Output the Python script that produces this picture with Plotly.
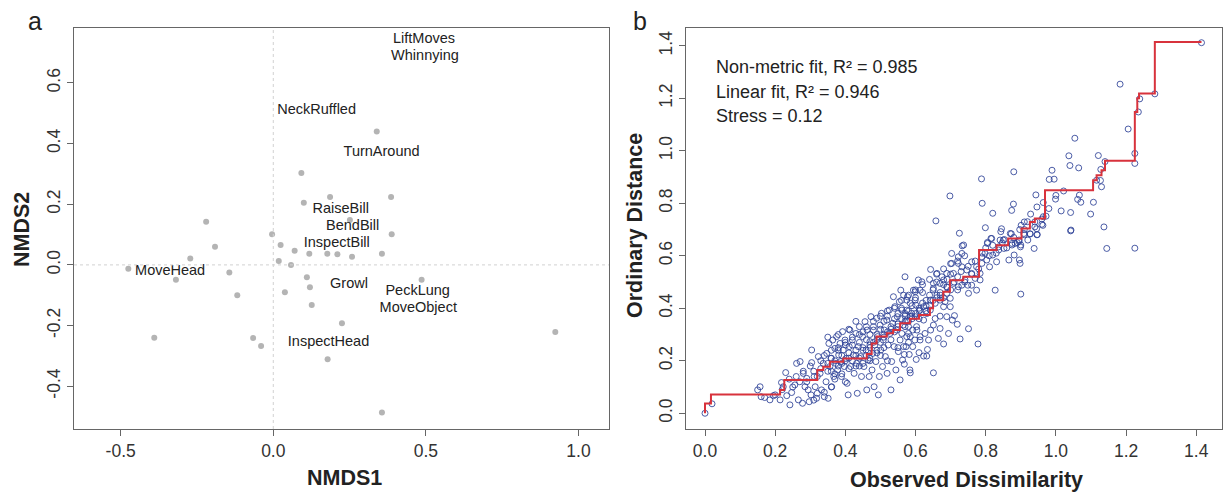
import plotly.graph_objects as go

# ---------------- Panel a: NMDS ordination ----------------
site_nmds1 = [-0.475, -0.272, -0.319, -0.191, -0.144, -0.118, -0.39, -0.066, -0.040, -0.004,
              0.024, 0.07, 0.018, 0.058, 0.038, -0.22, 0.118, 0.177, 0.21, 0.258,
              0.356, 0.388, 0.11, 0.12, 0.126, 0.486, 0.225, 0.924, 0.178, 0.356,
              0.339, 0.092, 0.186, 0.10, 0.386, 0.251]
site_nmds2 = [-0.013, 0.021, -0.049, 0.06, -0.025, -0.10, -0.24, -0.241, -0.267, 0.101,
              0.066, 0.047, 0.013, 0.0, -0.09, 0.142, 0.037, 0.037, 0.035, 0.027,
              0.037, 0.101, -0.041, -0.074, -0.132, -0.049, -0.192, -0.221, -0.311, -0.487,
              0.44, 0.303, 0.224, 0.205, 0.224, 0.148]

species = ["LiftMoves", "Whinnying", "NeckRuffled", "TurnAround", "RaiseBill", "BendBill",
           "InspectBill", "MoveHead", "Growl", "PeckLung", "MoveObject", "InspectHead"]
sp_nmds1 = [0.494, 0.497, 0.142, 0.355, 0.221, 0.26, 0.208, -0.338, 0.248, 0.473, 0.475, 0.181]
sp_nmds2 = [0.743, 0.686, 0.508, 0.370, 0.183, 0.127, 0.071, -0.02, -0.064, -0.086, -0.143, -0.254]

axa_x_ticks = [-0.5, 0.0, 0.5, 1.0]
axa_y_ticks = [-0.4, -0.2, 0.0, 0.2, 0.4, 0.6]
axb_ticks = [0.0, 0.2, 0.4, 0.6, 0.8, 1.0, 1.2, 1.4]

# ---------------- Panel b: Shepard diagram ----------------
obs_dissim = [
    # low end
    0.0, 0.02, 0.150, 0.157, 0.160, 0.185, 0.195, 0.214, 0.223, 0.218, 0.230, 0.233, 0.242, 0.247,
    0.256, 0.261, 0.271, 0.266, 0.278, 0.280, 0.285, 0.290, 0.294, 0.297, 0.302, 0.304, 0.304,
    0.311, 0.314, 0.318, 0.320, 0.323, 0.328, 0.332, 0.337, 0.340, 0.345, 0.347, 0.351, 0.353,
    0.356, 0.359, 0.361, 0.364, 0.367, 0.370, 0.373, 0.375, 0.378, 0.381, 0.385, 0.387, 0.389,
    0.392, 0.394, 0.397, 0.399, 0.402, 0.405, 0.408, 0.411, 0.413, 0.415, 0.420, 0.423, 0.425,
    0.430, 0.432, 0.434, 0.437, 0.440, 0.443, 0.446, 0.449, 0.453, 0.456, 0.459, 0.461, 0.462,
    0.465, 0.468, 0.470, 0.473, 0.476, 0.478, 0.480, 0.482, 0.484, 0.487, 0.489, 0.492, 0.494,
    0.497, 0.499, 0.501, 0.503, 0.506, 0.508, 0.511, 0.514, 0.518, 0.519, 0.522, 0.525, 0.527,
    0.530, 0.532, 0.535, 0.537, 0.539, 0.541, 0.544, 0.546, 0.548, 0.551, 0.554, 0.556, 0.558,
    0.561, 0.563, 0.565, 0.570, 0.573, 0.575, 0.577, 0.580, 0.584, 0.589, 0.594, 0.598, 0.601,
    0.603,
    # extra core
    0.36, 0.37, 0.38, 0.38, 0.39, 0.40, 0.40, 0.41, 0.42, 0.42, 0.43, 0.44, 0.44, 0.45, 0.45,
    0.46, 0.46, 0.47, 0.47, 0.48, 0.48, 0.49, 0.49, 0.50, 0.50, 0.51, 0.51, 0.52, 0.52, 0.53,
    0.53, 0.54, 0.54, 0.55, 0.55, 0.56, 0.56, 0.57, 0.57, 0.58, 0.58, 0.59, 0.59, 0.60, 0.60,
    0.61, 0.61, 0.62, 0.62, 0.63, 0.63, 0.64, 0.64, 0.65, 0.66, 0.66, 0.67, 0.68, 0.68, 0.69,
    0.70, 0.70, 0.71, 0.72, 0.72, 0.73, 0.74, 0.75, 0.76, 0.77, 0.78, 0.79, 0.80, 0.81, 0.82,
    0.83, 0.85, 0.86, 0.88, 0.89, 0.91, 0.92, 0.94, 0.96, 0.98, 1.00,
    0.33, 0.34, 0.35, 0.36, 0.37, 0.31, 0.32, 0.30, 0.29, 0.28, 0.27, 0.26, 0.25, 0.24, 0.22,
    0.20, 0.17, 0.35, 0.38, 0.41, 0.43, 0.44, 0.47, 0.50, 0.52, 0.55, 0.58, 0.40, 0.36, 0.34,
    0.31,
    # second pass over the dense band
    0.39, 0.41, 0.43, 0.45, 0.47, 0.49, 0.51, 0.53, 0.55, 0.57, 0.59, 0.61, 0.63, 0.65, 0.67,
    0.69, 0.36, 0.38, 0.40, 0.42, 0.44, 0.46, 0.48, 0.50, 0.52, 0.54, 0.56, 0.58, 0.60, 0.62,
    0.64, 0.66, 0.68, 0.70, 0.72, 0.74, 0.33, 0.35, 0.37, 0.39, 0.41, 0.43, 0.45, 0.47, 0.49,
    0.51,
    # mid region
    0.946, 0.927, 0.910, 0.895, 0.900, 0.875, 0.866, 0.896, 0.898, 0.881, 0.852, 0.837, 0.820,
    0.831, 0.811, 0.827, 0.900, 0.774, 0.751, 0.749, 0.760, 0.722, 0.732, 0.778, 0.727, 0.751,
    0.711, 0.719, 0.680, 0.665, 0.694, 0.651, 0.585, 0.556, 0.568, 0.602, 0.623, 0.632, 0.634,
    0.610, 0.568, 0.582, 0.566, 0.592, 0.585, 0.592, 0.613, 0.643, 0.651, 0.670, 0.656, 0.670,
    0.689, 0.705, 0.699, 0.680, 0.670, 0.661, 0.642, 0.651, 0.613, 0.599, 0.566, 0.575, 0.599,
    0.623, 0.642, 0.613, 0.575, 0.585, 0.608, 0.618, 0.643, 0.661, 0.675, 0.689, 0.703, 0.708,
    0.722, 0.732, 0.746, 0.760, 0.722, 0.732, 0.737, 0.703, 0.760, 0.770, 0.784, 0.789, 0.798,
    0.803, 0.805, 0.817, 0.841, 0.843, 0.870, 0.884, 0.789, 0.774, 0.784, 0.741, 0.708, 0.689,
    0.680, 0.670, 0.651, 0.689, 0.699, 0.684, 0.656, 0.632, 0.623, 0.599, 0.585, 0.570, 0.580,
    0.604, 0.627, 0.637, 0.613, 0.575, 0.561,
    # upper region
    1.415, 1.183, 1.282, 1.239, 1.235, 1.206, 1.054, 1.037, 1.121, 1.04, 1.065, 1.225, 1.225,
    1.14, 1.128, 0.88, 0.989, 0.981, 0.995, 0.788, 0.698, 0.658, 0.725, 0.79, 0.82, 0.879,
    0.874, 0.943, 0.946, 0.964, 0.928, 0.999, 1.022, 1.067, 1.062, 1.071, 1.107, 1.127, 1.13,
    1.116, 1.015, 1.042, 1.099, 1.137, 1.043, 1.145, 1.225, 0.799, 0.845, 0.964, 0.972, 0.96,
    0.963, 0.94, 0.945, 0.926, 0.947, 0.91, 0.919, 0.901, 0.897, 0.909, 0.873, 0.895, 0.899,
    0.875, 0.853, 0.847, 0.837, 0.815, 0.805, 0.733, 0.938, 1.042,
]
ord_dist = [
    # low end
    0.0, 0.036, 0.089, 0.101, 0.063, 0.051, 0.067, 0.051, 0.101, 0.117, 0.155, 0.067, 0.032, 0.079,
    0.108, 0.190, 0.197, 0.051, 0.038, 0.152, 0.101, 0.133, 0.089, 0.044, 0.070, 0.241, 0.193,
    0.140, 0.101, 0.057, 0.076, 0.216, 0.152, 0.089, 0.190, 0.063, 0.120, 0.228, 0.057, 0.266,
    0.178, 0.209, 0.101, 0.279, 0.140, 0.247, 0.190, 0.292, 0.165, 0.222, 0.266, 0.197, 0.140,
    0.311, 0.241, 0.178, 0.279, 0.209, 0.114, 0.070, 0.254, 0.317, 0.178, 0.279, 0.222, 0.152,
    0.304, 0.190, 0.076, 0.254, 0.330, 0.216, 0.140, 0.292, 0.178, 0.349, 0.241, 0.089, 0.317,
    0.203, 0.140, 0.273, 0.368, 0.165, 0.228, 0.317, 0.101, 0.260, 0.197, 0.362, 0.292, 0.070,
    0.140, 0.336, 0.241, 0.381, 0.178, 0.279, 0.317, 0.216, 0.355, 0.152, 0.260, 0.393, 0.304,
    0.089, 0.197, 0.343, 0.444, 0.254, 0.406, 0.165, 0.317, 0.368, 0.235, 0.425, 0.279, 0.469,
    0.393, 0.203, 0.336, 0.520, 0.254, 0.355, 0.444, 0.304, 0.165, 0.381, 0.469, 0.279, 0.412,
    0.330,
    # extra core
    0.16, 0.20, 0.18, 0.25, 0.22, 0.20, 0.26, 0.23, 0.20, 0.26, 0.24, 0.21, 0.27, 0.25, 0.31,
    0.22, 0.28, 0.30, 0.25, 0.27, 0.33, 0.24, 0.30, 0.32, 0.27, 0.35, 0.29, 0.31, 0.37, 0.33,
    0.28, 0.36, 0.31, 0.38, 0.34, 0.36, 0.40, 0.37, 0.33, 0.39, 0.35, 0.41, 0.37, 0.38, 0.44,
    0.40, 0.36, 0.42, 0.46, 0.43, 0.39, 0.45, 0.41, 0.47, 0.44, 0.50, 0.46, 0.49, 0.44, 0.51,
    0.47, 0.53, 0.50, 0.52, 0.47, 0.54, 0.50, 0.56, 0.53, 0.58, 0.55, 0.61, 0.63, 0.60, 0.64,
    0.61, 0.66, 0.63, 0.67, 0.65, 0.70, 0.66, 0.71, 0.74, 0.78, 0.83,
    0.20, 0.22, 0.19, 0.24, 0.15, 0.16, 0.14, 0.18, 0.12, 0.16, 0.12, 0.14, 0.10, 0.13, 0.09,
    0.07, 0.06, 0.29, 0.30, 0.32, 0.35, 0.18, 0.20, 0.22, 0.20, 0.25, 0.27, 0.12, 0.10, 0.08,
    0.05,
    # second pass over the dense band
    0.19, 0.21, 0.22, 0.24, 0.26, 0.28, 0.30, 0.32, 0.33, 0.35, 0.36, 0.39, 0.41, 0.43, 0.45,
    0.48, 0.21, 0.24, 0.27, 0.29, 0.30, 0.33, 0.35, 0.37, 0.39, 0.40, 0.43, 0.45, 0.47, 0.49,
    0.51, 0.53, 0.55, 0.57, 0.58, 0.60, 0.17, 0.16, 0.13, 0.15, 0.17, 0.18, 0.19, 0.21, 0.23,
    0.25,
    # mid region
    0.680, 0.683, 0.680, 0.660, 0.641, 0.647, 0.584, 0.584, 0.571, 0.603, 0.628, 0.622, 0.603,
    0.577, 0.558, 0.469, 0.454, 0.469, 0.457, 0.488, 0.488, 0.482, 0.488, 0.264, 0.283, 0.322,
    0.372, 0.339, 0.264, 0.285, 0.304, 0.154, 0.154, 0.127, 0.187, 0.205, 0.218, 0.218, 0.243,
    0.231, 0.224, 0.224, 0.254, 0.254, 0.292, 0.317, 0.292, 0.317, 0.336, 0.323, 0.361, 0.370,
    0.368, 0.355, 0.406, 0.406, 0.431, 0.450, 0.431, 0.476, 0.469, 0.463, 0.450, 0.431, 0.431,
    0.406, 0.393, 0.393, 0.393, 0.419, 0.508, 0.501, 0.548, 0.533, 0.520, 0.533, 0.571, 0.533,
    0.571, 0.558, 0.546, 0.577, 0.596, 0.609, 0.641, 0.609, 0.533, 0.514, 0.508, 0.596, 0.609,
    0.584, 0.647, 0.666, 0.660, 0.692, 0.685, 0.647, 0.571, 0.558, 0.533, 0.508, 0.495, 0.482,
    0.508, 0.495, 0.495, 0.457, 0.438, 0.425, 0.419, 0.380, 0.355, 0.368, 0.368, 0.380, 0.330,
    0.317, 0.304, 0.279, 0.279, 0.292, 0.304,
    # upper region
    1.412, 1.254, 1.217, 1.198, 1.148, 1.083, 1.048, 0.981, 0.982, 0.944, 0.935, 0.99, 0.952,
    0.959, 0.929, 0.92, 0.926, 0.891, 0.892, 0.893, 0.828, 0.733, 0.686, 0.80, 0.762, 0.797,
    0.773, 0.832, 0.786, 0.803, 0.759, 0.816, 0.847, 0.831, 0.815, 0.804, 0.804, 0.887, 0.863,
    0.888, 0.771, 0.765, 0.759, 0.71, 0.698, 0.628, 0.629, 0.707, 0.703, 0.749, 0.751, 0.72,
    0.716, 0.729, 0.703, 0.684, 0.681, 0.729, 0.73, 0.716, 0.70, 0.685, 0.684, 0.655, 0.634,
    0.641, 0.662, 0.649, 0.634, 0.666, 0.651, 0.638, 0.628, 0.695,
]

# monotone (non-metric) fit: step vertices
fit_x = [0.0, 0.0, 0.017, 0.214, 0.226, 0.320, 0.337, 0.356, 0.394, 0.461, 0.475, 0.489, 0.518,
         0.536, 0.556, 0.584, 0.610, 0.641, 0.650, 0.679, 0.698, 0.736, 0.781, 0.831, 0.864,
         0.902, 0.926, 0.940, 0.969, 1.106, 1.116, 1.130, 1.140, 1.225, 1.232, 1.237, 1.282, 1.415]
fit_y = [0.0, 0.037, 0.071, 0.089, 0.127, 0.165, 0.177, 0.196, 0.209, 0.226, 0.266, 0.292, 0.305,
         0.317, 0.343, 0.360, 0.374, 0.400, 0.431, 0.463, 0.507, 0.520, 0.622, 0.640, 0.666,
         0.704, 0.729, 0.742, 0.850, 0.888, 0.907, 0.926, 0.962, 1.148, 1.200, 1.218, 1.415, 1.415]

stats_lines = ["Non-metric fit, R² = 0.985", "Linear fit, R² = 0.946", "Stress = 0.12"]
stats_y = [1.321, 1.224, 1.131]

FONT = "Liberation Sans, Arial, sans-serif"
W, H = 1223, 493

fig = go.Figure()

# panel a
fig.add_trace(go.Scatter(x=site_nmds1, y=site_nmds2, mode="markers",
                         marker=dict(size=6, color="#b4b4b4"), xaxis="x", yaxis="y",
                         showlegend=False, hoverinfo="skip"))
fig.add_trace(go.Scatter(x=sp_nmds1, y=sp_nmds2, mode="text", text=species,
                         textfont=dict(family=FONT, size=14.5, color="#222"),
                         xaxis="x", yaxis="y", showlegend=False, hoverinfo="skip"))

# panel b
fig.add_trace(go.Scatter(x=obs_dissim, y=ord_dist, mode="markers",
                         marker=dict(symbol="circle-open", size=6,
                                     color="rgba(45,65,150,0.85)", line=dict(width=1)),
                         xaxis="x2", yaxis="y2", showlegend=False, hoverinfo="skip"))
fig.add_trace(go.Scatter(x=fit_x, y=fit_y, mode="lines", line=dict(color="#d8323c", width=2, shape="hv"),
                         xaxis="x2", yaxis="y2", showlegend=False, hoverinfo="skip"))

ax_common = dict(showline=True, mirror=True, linecolor="#666", linewidth=1, ticks="outside",
                 ticklen=6, tickcolor="#666", showgrid=False, zeroline=False,
                 tickfont=dict(family=FONT, size=17.5, color="#333"))

def tick_text(vals):
    return [f"{v:.1f}" for v in vals]

y0, y1 = (H - 429) / H, (H - 28) / H
fig.update_layout(
    width=W, height=H, margin=dict(l=0, r=0, t=0, b=0),
    paper_bgcolor="white", plot_bgcolor="white",
    xaxis=dict(domain=[74 / W, 609 / W], range=[-0.653, 1.10], tickvals=axa_x_ticks,
               ticktext=tick_text(axa_x_ticks), anchor="y", **ax_common),
    yaxis=dict(domain=[y0, y1], range=[-0.541, 0.781], tickvals=axa_y_ticks,
               ticktext=tick_text(axa_y_ticks), tickangle=-90, anchor="x", **ax_common),
    xaxis2=dict(domain=[685.7 / W, 1221.5 / W], range=[-0.055, 1.472],
                tickvals=axb_ticks, ticktext=tick_text(axb_ticks), anchor="y2", **ax_common),
    yaxis2=dict(domain=[y0, y1], range=[-0.06, 1.468],
                tickvals=axb_ticks, ticktext=tick_text(axb_ticks), tickangle=-90, anchor="x2",
                **ax_common),
)

# dotted zero lines in panel a
fig.add_shape(type="line", xref="x", yref="y domain", x0=0, x1=0, y0=0, y1=1,
              line=dict(color="#d2d2d2", width=1, dash="dot"))
fig.add_shape(type="line", xref="x domain", yref="y", x0=0, x1=1, y0=0, y1=0,
              line=dict(color="#d2d2d2", width=1, dash="dot"))

# stats text
for t, yy in zip(stats_lines, stats_y):
    fig.add_annotation(x=0.026, y=yy, xref="x2", yref="y2", text=t, showarrow=False,
                       xanchor="left", yanchor="middle",
                       font=dict(family=FONT, size=18, color="#222"))

# axis titles and panel letters
def pa(text, x, y, size, bold=False, angle=0):
    fig.add_annotation(x=x / W, y=1 - y / H, xref="paper", yref="paper",
                       text=f"<b>{text}</b>" if bold else text, showarrow=False,
                       xanchor="center", yanchor="middle", textangle=angle,
                       font=dict(family=FONT, size=size, color="#222"))

pa("NMDS1", 344, 478, 21.5, bold=True)
pa("NMDS2", 22, 230, 21.5, bold=True, angle=-90)
pa("Observed Dissimilarity", 966, 480, 21.5, bold=True)
pa("Ordinary Distance", 635, 226, 21.5, bold=True, angle=-90)
pa("a", 35, 21, 25)
pa("b", 640, 21, 25)

fig.write_html("out.html")
